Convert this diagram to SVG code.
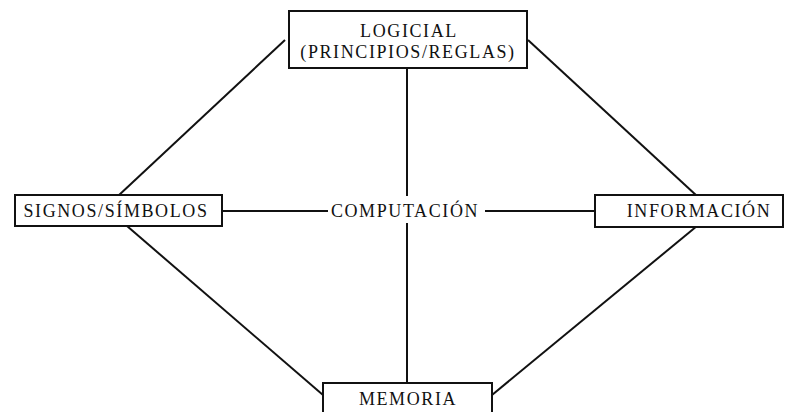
<svg xmlns="http://www.w3.org/2000/svg" width="786" height="412" viewBox="0 0 786 412">
<style>
text{font-family:"Liberation Serif","Times New Roman",serif;font-size:18px;fill:#111;letter-spacing:1.6px;text-anchor:middle}
.box{fill:#fff;stroke:#111;stroke-width:2}
.ln{stroke:#111;stroke-width:2;fill:none}
</style>
<rect width="786" height="412" fill="#fff"/>
<g id="connectors">
<line class="ln" x1="285" y1="40" x2="118" y2="196"/>
<line class="ln" x1="528" y1="40" x2="697" y2="196"/>
<line class="ln" x1="127" y1="226" x2="323" y2="395"/>
<line class="ln" x1="697" y1="226" x2="492" y2="395"/>
<line class="ln" x1="407" y1="68" x2="407" y2="196"/>
<line class="ln" x1="407" y1="223" x2="407" y2="383"/>
<line class="ln" x1="222" y1="211" x2="328" y2="211"/>
<line class="ln" x1="485" y1="211" x2="595" y2="211"/>
</g>
<g id="logicial">
<rect class="box" x="289" y="11" width="238" height="57"/>
<text x="409" y="37">LOGICIAL</text>
<text x="408" y="58">(PRINCIPIOS/REGLAS)</text>
</g>
<g id="signos">
<rect class="box" x="15" y="195" width="207" height="31"/>
<text x="116" y="217">SIGNOS/SÍMBOLOS</text>
</g>
<g id="computacion">
<text x="405" y="217">COMPUTACIÓN</text>
</g>
<g id="informacion">
<rect class="box" x="595" y="195" width="188" height="32"/>
<text x="699" y="217">INFORMACIÓN</text>
</g>
<g id="memoria">
<rect class="box" x="323" y="383" width="169" height="40"/>
<text x="408" y="405">MEMORIA</text>
</g>
</svg>
